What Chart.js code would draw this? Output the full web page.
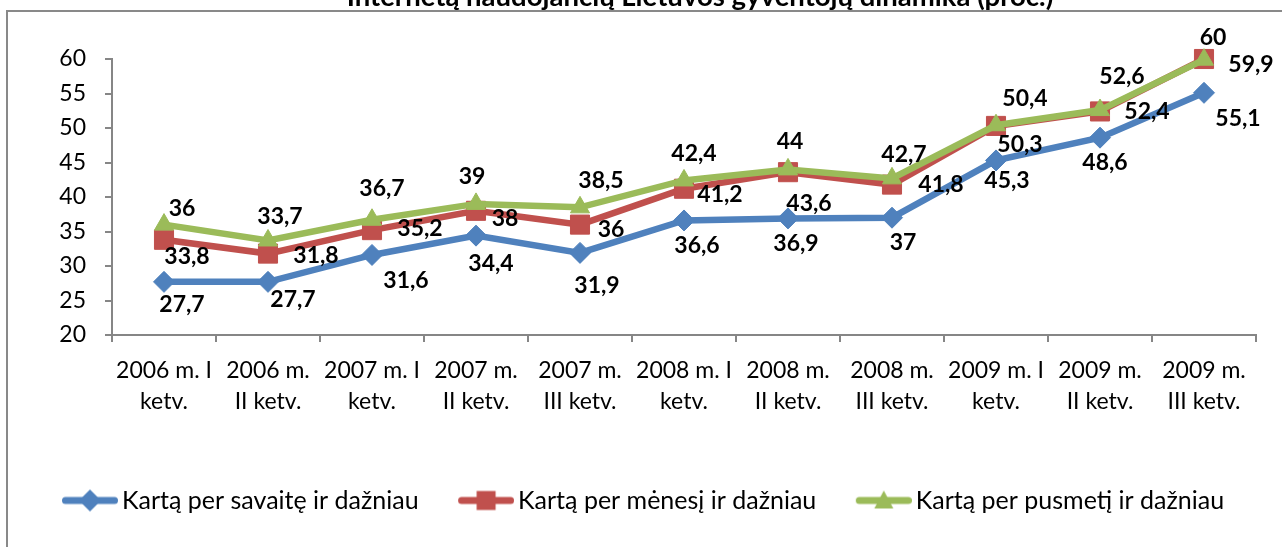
<!DOCTYPE html>
<html>
<head>
<meta charset="utf-8">
<script src="https://cdn.jsdelivr.net/npm/chart.js@4.4.1/dist/chart.umd.min.js"></script>
<style>
  html, body { margin: 0; padding: 0; background: #fff; }
  #wrap { width: 1282px; height: 547px; }
</style>
</head>
<body>
<div id="wrap"><canvas id="internetChart" width="1282" height="547"></canvas></div>
<script>
var chartTitle = 'Internetą naudojančių Lietuvos gyventojų dinamika (proc.)';

var quarters = [
  ['2006 m. I', 'ketv.'], ['2006 m.', 'II ketv.'], ['2007 m. I', 'ketv.'], ['2007 m.', 'II ketv.'],
  ['2007 m.', 'III ketv.'], ['2008 m. I', 'ketv.'], ['2008 m.', 'II ketv.'], ['2008 m.', 'III ketv.'],
  ['2009 m. I', 'ketv.'], ['2009 m.', 'II ketv.'], ['2009 m.', 'III ketv.']
];
var seriesNames = ['Kartą per savaitę ir dažniau', 'Kartą per mėnesį ir dažniau', 'Kartą per pusmetį ir dažniau'];
var weeklyValues   = [27.7, 27.7, 31.6, 34.4, 31.9, 36.6, 36.9, 37, 45.3, 48.6, 55.1];
var monthlyValues  = [33.8, 31.8, 35.2, 38, 36, 41.2, 43.6, 41.8, 50.3, 52.4, 60];
var halfYearValues = [36, 33.7, 36.7, 39, 38.5, 42.4, 44, 42.7, 50.4, 52.6, 59.9];
var yTicks = [20, 25, 30, 35, 40, 45, 50, 55, 60];

var BLUE = '#4F81BD', RED = '#C0504D', GREEN = '#9BBB59';
var FONT = 'Lato';

// where excel put each value label, relative to its marker
var labelOffsets = [
  [[18, 23], [25, 18], [34, 26], [15, 28], [17, 33], [13, 25], [8, 25], [11, 25], [11, 20], [5, 25], [34, 26]],
  [[23, 17], [48, 2], [48, -2], [29, 8], [31, 5], [36, 6], [21, 31], [49, 0], [24, 19], [47, 0], [9, -21]],
  [[18, -16], [12, -24], [10, -31], [-4, -27], [21, -27], [10, -27], [2, -28], [12, -24], [29, -27], [22, -33], [47, 5]]
];

function makeLegendIcon(color, shape) {
  var w = 94;
  var c = document.createElement('canvas');
  c.width = w; c.height = 26;
  var g = c.getContext('2d');
  var cx = w - 28, cy = 13;
  g.strokeStyle = color;
  g.lineWidth = 7;
  g.lineCap = 'round';
  g.beginPath(); g.moveTo(w - 56 + 3.5, cy); g.lineTo(w - 3.5, cy); g.stroke();
  g.fillStyle = color;
  g.beginPath();
  if (shape === 'diamond') {
    g.moveTo(cx, cy - 11); g.lineTo(cx + 11, cy); g.lineTo(cx, cy + 11); g.lineTo(cx - 11, cy);
  } else if (shape === 'square') {
    g.rect(cx - 9.5, cy - 9.5, 19, 19);
  } else {
    g.moveTo(cx, cy - 10); g.lineTo(cx + 9.5, cy + 8); g.lineTo(cx - 9.5, cy + 8);
  }
  g.closePath();
  g.fill();
  return c;
}
var legendIcons = [makeLegendIcon(BLUE, 'diamond'), makeLegendIcon(RED, 'square'), makeLegendIcon(GREEN, 'triangle')];

var framePlugin = {
  id: 'frame',
  beforeDraw: function(chart) {
    var ctx = chart.ctx;
    ctx.save();
    ctx.fillStyle = '#fff';
    ctx.fillRect(0, 0, chart.width, chart.height);
    ctx.strokeStyle = '#898989';
    ctx.lineWidth = 2;
    ctx.beginPath();
    ctx.moveTo(chart.width, 11);
    ctx.lineTo(7, 11);
    ctx.lineTo(7, chart.height);
    ctx.stroke();
    ctx.restore();
  },
  afterDraw: function(chart) {
    var ctx = chart.ctx;
    ctx.save();
    ctx.font = 'bold 27.5px ' + FONT;
    ctx.fillStyle = '#000';
    ctx.textAlign = 'center';
    ctx.textBaseline = 'alphabetic';
    ctx.fillText(chartTitle, 700, 6);
    ctx.restore();
  }
};

var valueLabelPlugin = {
  id: 'valueLabels',
  afterDatasetsDraw: function(chart) {
    var ctx = chart.ctx;
    ctx.save();
    ctx.font = 'bold 23px ' + FONT;
    ctx.fillStyle = '#000';
    ctx.textAlign = 'center';
    ctx.textBaseline = 'middle';
    chart.data.datasets.forEach(function(ds, di) {
      var meta = chart.getDatasetMeta(di);
      meta.data.forEach(function(pt, i) {
        var off = labelOffsets[di][i];
        ctx.fillText(String(ds.data[i]).replace('.', ','), pt.x + off[0], pt.y + off[1]);
      });
    });
    ctx.restore();
  }
};

function lineSet(label, data, color, style, radius, order) {
  return {
    label: label, data: data, borderColor: color, backgroundColor: color,
    borderWidth: 6.5, tension: 0, fill: false, clip: false, order: order,
    pointStyle: style, pointRadius: radius, pointBorderWidth: 1,
    pointBackgroundColor: color, pointBorderColor: color
  };
}

Chart.defaults.font.family = FONT;
Chart.defaults.color = '#000';

new Chart(document.getElementById('internetChart').getContext('2d'), {
  type: 'line',
  data: {
    labels: quarters,
    datasets: [
      lineSet(seriesNames[0], weeklyValues, BLUE, 'rectRot', 10.5, 1),
      lineSet(seriesNames[1], monthlyValues, RED, 'rect', 13.5, 2),
      lineSet(seriesNames[2], halfYearValues, GREEN, 'triangle', 11, 0)
    ]
  },
  options: {
    responsive: false,
    animation: false,
    layout: { padding: { left: 22.5, right: 26, top: 59, bottom: 24 } },
    plugins: {
      tooltip: { enabled: false },
      title: { display: false },
      legend: {
        position: 'bottom',
        align: 'start',
        labels: {
          usePointStyle: true,
          pointStyleWidth: 77,
          padding: 10,
          color: '#000',
          font: { size: 25 },
          generateLabels: function(chart) {
            var items = Chart.defaults.plugins.legend.labels.generateLabels(chart);
            items.sort(function(a, b) { return a.datasetIndex - b.datasetIndex; });
            items.forEach(function(it) { it.pointStyle = legendIcons[it.datasetIndex]; });
            return items;
          }
        }
      }
    },
    scales: {
      x: {
        offset: true,
        grid: { display: true, drawOnChartArea: false, offset: true, tickLength: 7, color: '#868686', lineWidth: 2 },
        border: { color: '#868686', width: 2 },
        ticks: { font: { size: 23, lineHeight: 1.35 }, color: '#000', maxRotation: 0, autoSkip: false, padding: 13 },
        afterFit: function(s) { s.height = 143; }
      },
      y: {
        min: yTicks[0],
        max: yTicks[yTicks.length - 1],
        grid: { drawOnChartArea: false, tickLength: 7, color: '#868686', lineWidth: 2 },
        border: { color: '#868686', width: 2 },
        ticks: { stepSize: yTicks[1] - yTicks[0], font: { size: 23 }, color: '#000', padding: 19 },
        afterFit: function(s) { s.width = 89.5; }
      }
    }
  },
  plugins: [framePlugin, valueLabelPlugin]
});
</script>
</body>
</html>
